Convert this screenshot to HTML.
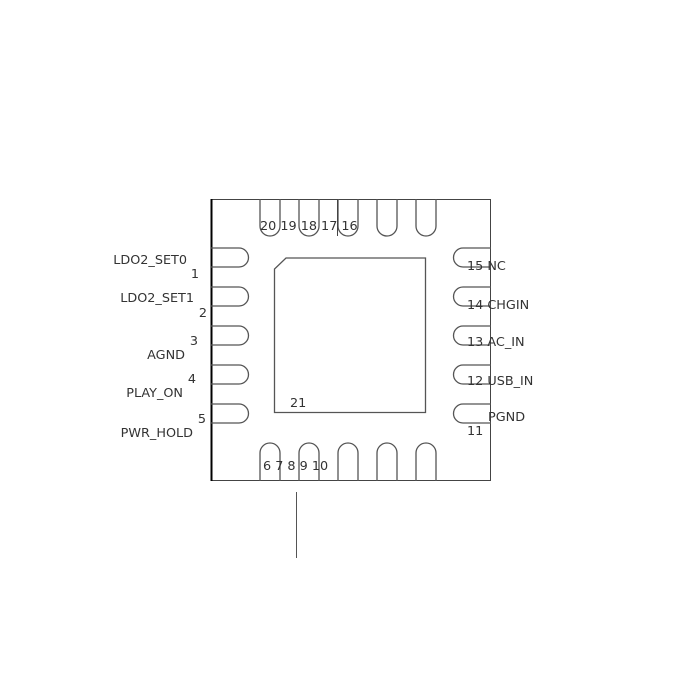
<!DOCTYPE html>
<html><head><meta charset="utf-8"><style>html,body{margin:0;padding:0;background:#fff;overflow:hidden}svg{display:block}</style></head>
<body>
<svg width="700" height="700" xmlns="http://www.w3.org/2000/svg" font-family="DejaVu Sans, Liberation Sans, sans-serif" font-size="12.8" fill="#333">
<rect x="211.5" y="199.5" width="279" height="281" fill="none" stroke="#444" stroke-width="1"/>
<line x1="211.5" y1="199" x2="211.5" y2="481" stroke="#000" stroke-width="2"/>
<g fill="none" stroke="#555" stroke-width="1.3">
<path d="M260 199 V226 a10 10 0 0 0 20 0 V199"/>
<path d="M299 199 V226 a10 10 0 0 0 20 0 V199"/>
<path d="M338 199 V226 a10 10 0 0 0 20 0 V199"/>
<path d="M377 199 V226 a10 10 0 0 0 20 0 V199"/>
<path d="M416 199 V226 a10 10 0 0 0 20 0 V199"/>
<path d="M260 481 V453 a10 10 0 0 1 20 0 V481"/>
<path d="M299 481 V453 a10 10 0 0 1 20 0 V481"/>
<path d="M338 481 V453 a10 10 0 0 1 20 0 V481"/>
<path d="M377 481 V453 a10 10 0 0 1 20 0 V481"/>
<path d="M416 481 V453 a10 10 0 0 1 20 0 V481"/>
<path d="M211 248 H239 a9.5 9.5 0 0 1 0 19 H211"/>
<path d="M211 287 H239 a9.5 9.5 0 0 1 0 19 H211"/>
<path d="M211 326 H239 a9.5 9.5 0 0 1 0 19 H211"/>
<path d="M211 365 H239 a9.5 9.5 0 0 1 0 19 H211"/>
<path d="M211 404 H239 a9.5 9.5 0 0 1 0 19 H211"/>
<path d="M491 248 H463 a9.5 9.5 0 0 0 0 19 H491"/>
<path d="M491 287 H463 a9.5 9.5 0 0 0 0 19 H491"/>
<path d="M491 326 H463 a9.5 9.5 0 0 0 0 19 H491"/>
<path d="M491 365 H463 a9.5 9.5 0 0 0 0 19 H491"/>
<path d="M491 404 H463 a9.5 9.5 0 0 0 0 19 H491"/>
<path d="M286 258 H425.5 V412.5 H274.5 V269 Z"/>
</g>
<line x1="337.5" y1="199" x2="337.5" y2="236" stroke="#444"/>
<line x1="296.5" y1="492" x2="296.5" y2="558" stroke="#555"/>
<g text-anchor="end">
<text x="187" y="264">LDO2_SET0</text>
<text x="199" y="278">1</text>
<text x="194" y="302">LDO2_SET1</text>
<text x="207" y="317">2</text>
<text x="198" y="345">3</text>
<text x="185" y="359">AGND</text>
<text x="196" y="383">4</text>
<text x="183" y="397">PLAY_ON</text>
<text x="206" y="423">5</text>
<text x="193" y="437">PWR_HOLD</text>
</g>
<text x="467" y="270">15 NC</text>
<text x="467" y="309">14 CHGIN</text>
<text x="467" y="346">13 AC_IN</text>
<text x="467" y="385">12 USB_IN</text>
<text x="488" y="421">PGND</text>
<text x="467" y="435">11</text>
<text x="260" y="230">20 19 18 17 16</text>
<text x="263" y="470">6 7 8 9 10</text>
<text x="290" y="407">21</text>
</svg>
</body></html>
